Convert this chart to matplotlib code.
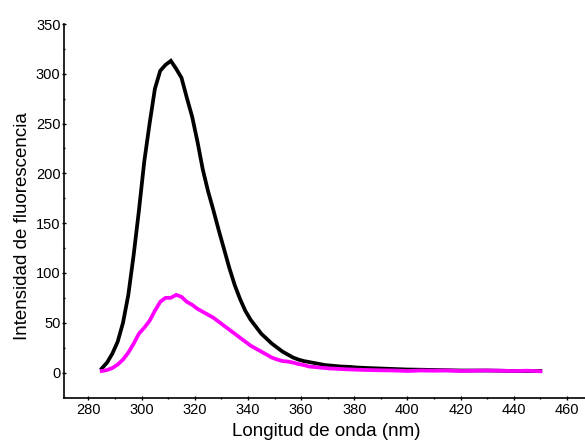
#fluorescence emission spectra, two samples
import numpy as np
import matplotlib
matplotlib.use("Agg")
import matplotlib.pyplot as plt
from matplotlib.ticker import MultipleLocator

plt.rcParams['font.family'] = ['Liberation Sans', 'DejaVu Sans']

#wavelengths (nm): every 2 nm up to 381, then every 5 nm
wavelength = [285, 287, 289, 291, 293, 295, 297, 299, 301, 303, 305, 307, 309, 311, 313,
              315, 317, 319, 321, 323, 325, 327, 329, 331, 333, 335, 337, 339, 341, 343,
              345, 347, 349, 351, 353, 355, 357, 359, 361, 363, 365, 367, 369, 371, 373,
              375, 377, 379, 381, 385, 390, 395, 400, 405, 410, 415, 420, 425, 430, 435,
              440, 445, 450]

#black trace
black_int = [4, 10, 19, 31, 50, 78, 118, 163, 212, 250, 285, 303, 309, 313, 305,
             296, 276, 257, 232, 204, 182, 163, 143, 124, 105, 88, 74, 62, 53, 46,
             39, 34, 29, 25, 21, 18, 15, 13, 11.5, 10.5, 9.5, 8.5, 7.5, 7, 6.5,
             6, 5.8, 5.5, 5, 4.5, 4, 3.5, 3, 2.8, 2.5, 2.3, 2, 2, 2, 1.8,
             1.5, 1.5, 1.5]

#magenta trace
magenta_int = [1.5, 2.5, 4.5, 8, 13, 20, 29, 39, 45, 52, 62, 71, 75, 75, 78,
               76, 71, 68, 64, 61, 58, 55, 51, 47, 43, 39, 35, 31, 27, 24,
               21, 18, 15, 13, 11.5, 11, 10, 8.5, 7.5, 6, 5.5, 5, 4.5, 4, 3.8,
               3.5, 3.2, 3, 2.8, 2.5, 2.2, 2, 1.5, 2, 1.8, 2, 1.5, 1.8, 2, 1.8,
               1.5, 1.8, 1.2]

fig = plt.figure(figsize=(5.85, 4.4), dpi=100)
ax = fig.add_axes([64/585, 1 - 398/440, 1 - 64/585, (398 - 24)/440])

ax.plot(wavelength, black_int, color="black", lw=2.7, solid_joinstyle="miter")
ax.plot(wavelength, magenta_int, color="#ff00ff", lw=2.7)

ax.set_xlim(270.8, 466.8)
ax.set_ylim(-25.6, 350)
ax.xaxis.set_major_locator(MultipleLocator(20))
ax.xaxis.set_minor_locator(MultipleLocator(10))
ax.yaxis.set_major_locator(MultipleLocator(50))
ax.yaxis.set_minor_locator(MultipleLocator(25))
ax.tick_params(which="both", direction="inout", length=3, width=1, labelsize=10.5)
ax.tick_params(which="minor", length=2)
ax.tick_params(axis="y", pad=1)
ax.tick_params(axis="x", pad=2)

for s in ["top", "right"]:
    ax.spines[s].set_visible(False)
for s in ["left", "bottom"]:
    ax.spines[s].set_linewidth(1.2)

ax.set_xlabel("Longitud de onda (nm)", fontsize=13.5, va="center")
ax.set_ylabel("Intensidad de fluorescencia", fontsize=13.5, va="center")
ax.xaxis.set_label_coords(0.504, -0.090)
ax.yaxis.set_label_coords(-0.079, 0.46)

plt.savefig("out.png", dpi=100)
